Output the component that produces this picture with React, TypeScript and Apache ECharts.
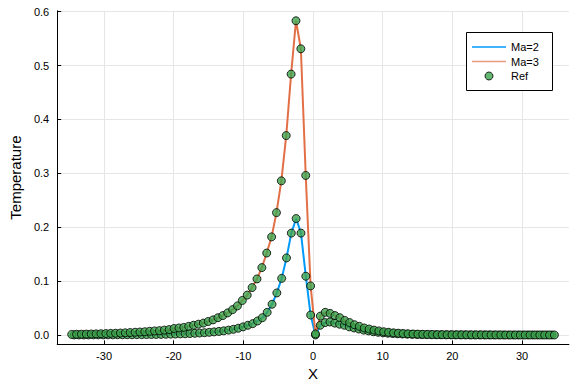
import { useEffect, useRef } from "react";
import * as echarts from "echarts";

// x positions of the Ma=3 solution / reference points
const xs3 = [
  -34.65, -33.95, -33.25, -32.55, -31.85, -31.15, -30.45, -29.75, -29.05, -28.35,
  -27.65, -26.95, -26.25, -25.55, -24.85, -24.15, -23.45, -22.75, -22.05, -21.35,
  -20.65, -19.95, -19.25, -18.55, -17.85, -17.15, -16.45, -15.75, -15.05, -14.35,
  -13.65, -12.95, -12.25, -11.55, -10.85, -10.15, -9.45, -8.75, -8.05, -7.35,
  -6.65, -5.95, -5.25, -4.55, -3.85, -3.15, -2.45, -1.75, -1.05, -0.35,
  0.35, 1.05, 1.75, 2.45, 3.15, 3.85, 4.55, 5.25, 5.95, 6.65,
  7.35, 8.05, 8.75, 9.45, 10.15, 10.85, 11.55, 12.25, 12.95, 13.65,
  14.35, 15.05, 15.75, 16.45, 17.15, 17.85, 18.55, 19.25, 19.95, 20.65,
  21.35, 22.05, 22.75, 23.45, 24.15, 24.85, 25.55, 26.25, 26.95, 27.65,
  28.35, 29.05, 29.75, 30.45, 31.15, 31.85, 32.55, 33.25, 33.95, 34.65,
];

// x positions of the Ma=2 solution / reference points
const xs2 = [
  -34.3, -33.607, -32.914, -32.221, -31.528, -30.835, -30.142, -29.449, -28.757, -28.064,
  -27.371, -26.678, -25.985, -25.292, -24.599, -23.906, -23.213, -22.52, -21.827, -21.134,
  -20.441, -19.748, -19.055, -18.362, -17.67, -16.977, -16.284, -15.591, -14.898, -14.205,
  -13.512, -12.819, -12.126, -11.433, -10.74, -10.047, -9.355, -8.662, -7.969, -7.276,
  -6.583, -5.89, -5.197, -4.504, -3.811, -3.118, -2.425, -1.732, -1.039, -0.346,
  0.346, 1.039, 1.732, 2.425, 3.118, 3.811, 4.504, 5.197, 5.89, 6.583,
  7.276, 7.969, 8.662, 9.355, 10.047, 10.74, 11.433, 12.126, 12.819, 13.512,
  14.205, 14.898, 15.591, 16.284, 16.977, 17.67, 18.362, 19.055, 19.748, 20.441,
  21.134, 21.827, 22.52, 23.213, 23.906, 24.599, 25.292, 25.985, 26.678, 27.371,
  28.064, 28.757, 29.449, 30.142, 30.835, 31.528, 32.221, 32.914, 33.607, 34.3,
];

const ma2 = [
  0.0001, 0.0001, 0.0001, 0.0001, 0.0002, 0.0002, 0.0002, 0.0003, 0.0003, 0.0004,
  0.0004, 0.0005, 0.0005, 0.0006, 0.0007, 0.0008, 0.0009, 0.001, 0.0011, 0.0013,
  0.0015, 0.0017, 0.002, 0.0023, 0.0027, 0.0031, 0.0036, 0.0042, 0.0049, 0.0057,
  0.0066, 0.0077, 0.009, 0.0105, 0.0125, 0.015, 0.018, 0.021, 0.026, 0.032,
  0.042, 0.057, 0.078, 0.105, 0.143, 0.189, 0.216, 0.189, 0.109, 0.037,
  0.0, 0.018, 0.023, 0.024, 0.022, 0.02, 0.018, 0.015, 0.013, 0.011,
  0.009, 0.0075, 0.006, 0.005, 0.004, 0.0033, 0.0027, 0.0022, 0.0018, 0.0015,
  0.0012, 0.001, 0.0008, 0.0007, 0.0006, 0.0005, 0.0004, 0.0003, 0.0003, 0.0002,
  0.0002, 0.0002, 0.0001, 0.0001, 0.0001, 0.0001, 0.0001, 0.0, 0.0, 0.0,
  0.0, 0.0, 0.0, 0.0, 0.0, 0.0, 0.0, 0.0, 0.0, 0.0,
];

const ma3 = [
  0.001, 0.0012, 0.0014, 0.0016, 0.0018, 0.002, 0.0023, 0.0026, 0.0029, 0.0032,
  0.0036, 0.004, 0.0045, 0.005, 0.0055, 0.006, 0.0068, 0.0075, 0.008, 0.009,
  0.01, 0.012, 0.013, 0.014, 0.016, 0.018, 0.02, 0.022, 0.025, 0.028,
  0.032, 0.036, 0.041, 0.047, 0.054, 0.064, 0.074, 0.088, 0.104, 0.125,
  0.152, 0.182, 0.227, 0.286, 0.37, 0.484, 0.583, 0.531, 0.296, 0.091,
  0.002, 0.035, 0.042, 0.04, 0.036, 0.032, 0.027, 0.023, 0.019, 0.016,
  0.013, 0.011, 0.009, 0.0075, 0.006, 0.005, 0.004, 0.0033, 0.0027, 0.0022,
  0.0018, 0.0015, 0.0012, 0.001, 0.0008, 0.0007, 0.0006, 0.0005, 0.0004, 0.0004,
  0.0003, 0.0003, 0.0002, 0.0002, 0.0002, 0.0001, 0.0001, 0.0001, 0.0001, 0.0,
  0.0, 0.0, 0.0, 0.0, 0.0, 0.0, 0.0, 0.0, 0.0, 0.0,
];

const xTicks = [-30, -20, -10, 0, 10, 20, 30];
const yTicks = [0, 0.1, 0.2, 0.3, 0.4, 0.5, 0.6];
const legendNames = ["Ma=2", "Ma=3", "Ref"];

const FONT = "Liberation Sans";
const BLUE = "#009afa";
const ORANGE = "#e36f47";
const GREEN = "#3da44d";

export default function App() {
  const ref = useRef<HTMLDivElement>(null);
  useEffect(() => {
    const chart = echarts.init(ref.current as HTMLDivElement, null, { renderer: "svg" });
    const line2 = xs2.map((x, i) => [x, ma2[i]]);
    const line3 = xs3.map((x, i) => [x, ma3[i]]);
    const refData = [...line2, ...line3];

    const lx = 466.5;
    const ly = 32.5;
    const rowY = [47, 61.5, 76];
    chart.setOption({
      animation: false,
      backgroundColor: "#ffffff",
      grid: { left: 52.5, right: 12.1, top: 10.8, bottom: 43.6 },
      xAxis: {
        type: "value",
        min: -36.73,
        max: 36.73,
        name: "X",
        nameLocation: "middle",
        nameGap: 18,
        nameTextStyle: { fontSize: 15, color: "#000", fontFamily: FONT },
        axisLine: { onZero: false, lineStyle: { color: "#000", width: 1 } },
        axisTick: { inside: true, length: 4, customValues: xTicks, lineStyle: { color: "#000" } },
        axisLabel: { customValues: xTicks, color: "#000", fontSize: 11, margin: 6, fontFamily: FONT },
        splitLine: { show: true, lineStyle: { color: "#e6e6e6", width: 1 } },
      },
      yAxis: {
        type: "value",
        min: -0.0175,
        max: 0.6015,
        name: "Temperature",
        nameLocation: "middle",
        nameGap: 30,
        nameTextStyle: { fontSize: 15, color: "#000", fontFamily: FONT },
        axisLine: { onZero: false, lineStyle: { color: "#000", width: 1 } },
        axisTick: { inside: true, length: 4, customValues: yTicks, lineStyle: { color: "#000" } },
        axisLabel: {
          customValues: yTicks,
          color: "#000",
          fontSize: 11,
          margin: 8,
          fontFamily: FONT,
          formatter: (v: number) => v.toFixed(1),
        },
        splitLine: { show: true, lineStyle: { color: "#e6e6e6", width: 1 } },
      },
      series: [
        {
          name: legendNames[0],
          type: "line",
          z: 2,
          data: line2,
          symbol: "none",
          lineStyle: { color: BLUE, width: 2 },
          itemStyle: { color: BLUE },
        },
        {
          name: legendNames[1],
          type: "line",
          z: 2,
          data: line3,
          symbol: "none",
          lineStyle: { color: ORANGE, width: 2 },
          itemStyle: { color: ORANGE },
        },
        {
          name: legendNames[2],
          type: "scatter",
          z: 5,
          data: refData,
          symbol: "circle",
          symbolSize: 8,
          itemStyle: { color: GREEN, opacity: 0.8, borderColor: "#000", borderWidth: 1 },
        },
      ],
      graphic: [
        {
          type: "rect",
          z: 100,
          shape: { x: lx, y: ly, width: 86, height: 58 },
          style: { fill: "#fff", stroke: "#000", lineWidth: 1 },
        },
        {
          type: "line",
          z: 101,
          shape: { x1: 472, y1: rowY[0], x2: 506, y2: rowY[0] },
          style: { stroke: BLUE, lineWidth: 1.5 },
        },
        {
          type: "line",
          z: 101,
          shape: { x1: 472, y1: rowY[1], x2: 506, y2: rowY[1] },
          style: { stroke: ORANGE, lineWidth: 1.5, opacity: 0.7 },
        },
        {
          type: "circle",
          z: 101,
          shape: { cx: 489, cy: rowY[2], r: 4 },
          style: { fill: GREEN, stroke: "#000", lineWidth: 1, opacity: 0.8 },
        },
        ...legendNames.map((n, i) => ({
          type: "text",
          z: 101,
          x: 511,
          y: rowY[i],
          style: {
            text: n,
            fill: "#000",
            font: `11px "${FONT}"`,
            verticalAlign: "middle",
            align: "left",
          },
        })),
      ],
    });
    return () => chart.dispose();
  }, []);
  return <div ref={ref} style={{ position: "fixed", left: 0, top: 0, width: 581, height: 388 }} />;
}
